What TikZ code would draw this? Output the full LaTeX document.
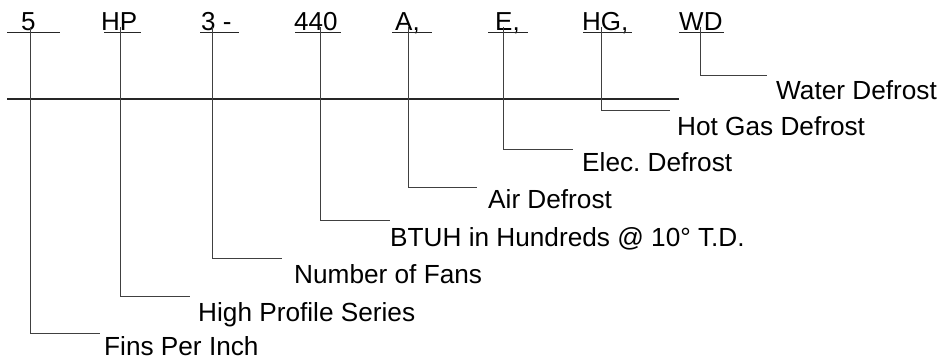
\documentclass[tikz,border=0pt]{standalone}
\usepackage{fontspec}
\setmainfont{Liberation Sans}
\tikzset{
  code/.style={anchor=base west,inner sep=0pt,font=\fontsize{26}{30}\selectfont},
  lab/.style={anchor=base west,inner sep=0pt,font=\fontsize{26.2}{30}\selectfont},
  uline/.style={line width=0.9pt,draw=black!85},
  lead/.style={line width=0.8pt,draw=black!75},
}

\begin{document}
\begin{tikzpicture}[x=1pt,y=-1pt]
\useasboundingbox (0,0) rectangle (941,360);
% model number
\node[code] (c5) at (21,30) {5};
\node[code] (cHP) at (101,30) {HP};
\node[code] (c3) at (201,30) {3 -};
\node[code] (c440) at (294,30) {440};
\node[code] (cA) at (395,30) {A,};
\node[code] (cE) at (495,30) {E,};
\node[code] (cHG) at (582,30) {HG,};
\node[code] (cWD) at (679,30) {WD};
\draw[uline] (7,32) -- (60,32) (104,32) -- (141,32) (200,32) -- (239,32)
  (295,32) -- (341,32) (392,32) -- (432,32) (488,32) -- (528,32)
  (583,32) -- (632,32) (679,32) -- (724,32);
\draw[uline,line width=1.2pt] (7,99) -- (679,99);
% leader ends
\coordinate (e5) at (100,333);
\coordinate (eHP) at (190,296);
\coordinate (e3) at (282,258);
\coordinate (e440) at (390,220);
\coordinate (eA) at (477,187);
\coordinate (eE) at (573,149);
\coordinate (eHG) at (670,110);
\coordinate (eWD) at (767,75);
% meanings
\node[lab] (l5) at ([shift={(4,22.5)}]e5) {Fins Per Inch};
\node[lab] (lHP) at ([shift={(8,25)}]eHP) {High Profile Series};
\node[lab] (l3) at ([shift={(12,25)}]e3) {Number of Fans};
\node[lab] (l440) at ([shift={(0,26)}]e440) {BTUH in Hundreds @ 10° T.D.};
\node[lab] (lA) at ([shift={(11,21)}]eA) {Air Defrost};
\node[lab] (lE) at ([shift={(9,22)}]eE) {Elec.\ Defrost};
\node[lab] (lHG) at ([shift={(7,25)}]eHG) {Hot Gas Defrost};
\node[lab] (lWD) at ([shift={(9,24)}]eWD) {Water Defrost};
\draw[lead] ([xshift=9pt,yshift=3pt]c5.base west) |- (e5);
\draw[lead] ([xshift=19pt,yshift=3pt]cHP.base west) |- (eHP);
\draw[lead] ([xshift=11pt,yshift=3pt]c3.base west) |- (e3);
\draw[lead] ([xshift=26pt,yshift=3pt]c440.base west) |- (e440);
\draw[lead] ([xshift=13pt,yshift=3pt]cA.base west) |- (eA);
\draw[lead] ([xshift=8pt,yshift=3pt]cE.base west) |- (eE);
\draw[lead] ([xshift=19pt,yshift=3pt]cHG.base west) |- (eHG);
\draw[lead] ([xshift=21pt,yshift=3pt]cWD.base west) |- (eWD);
\end{tikzpicture}
\end{document}
